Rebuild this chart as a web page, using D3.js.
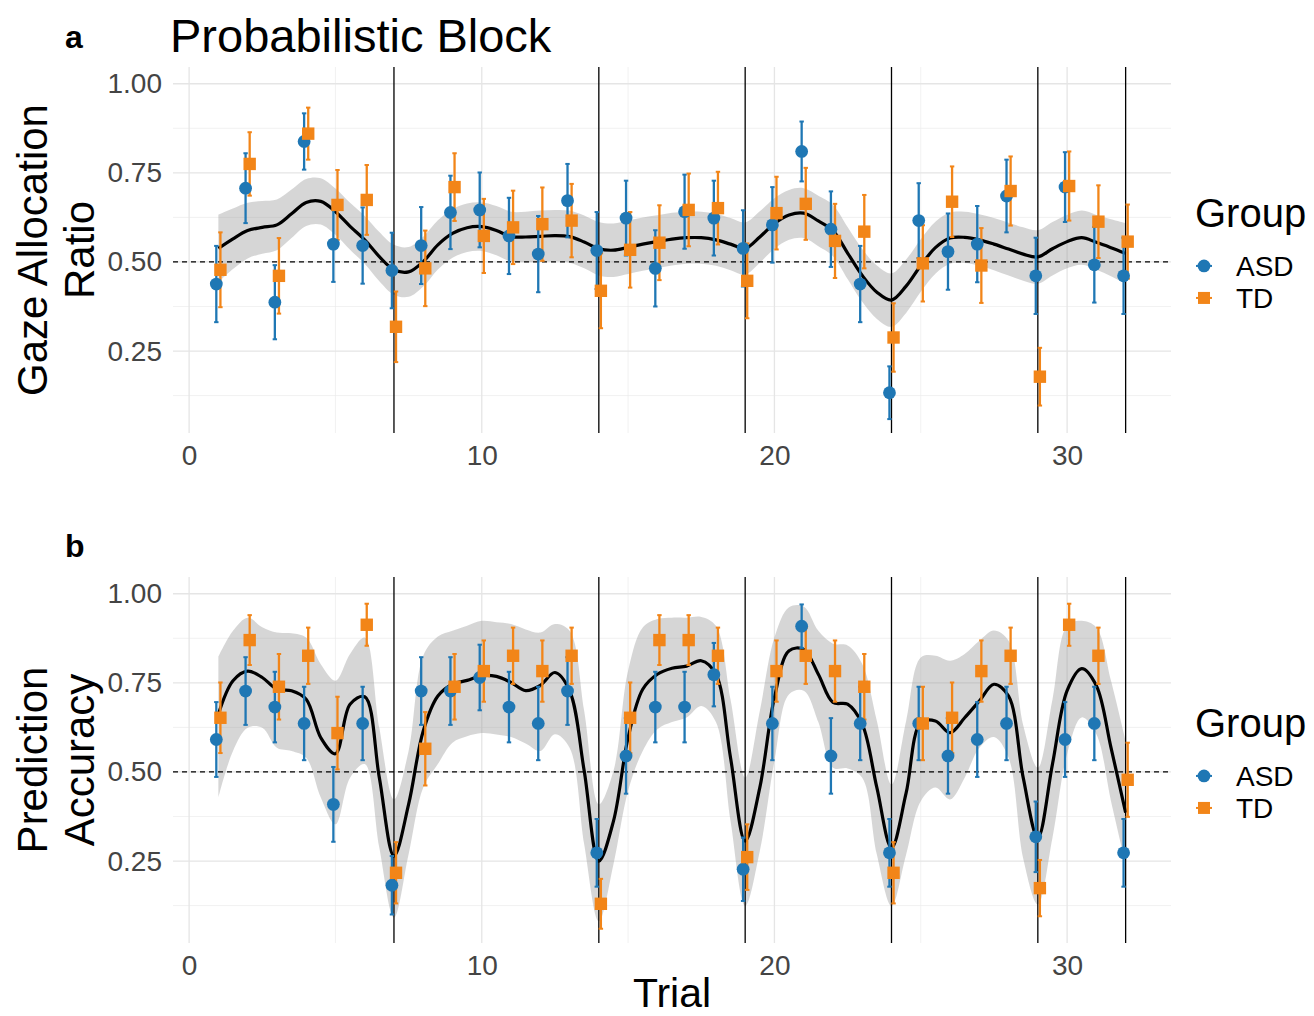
<!DOCTYPE html>
<html><head><meta charset="utf-8">
<script src="https://cdn.jsdelivr.net/npm/d3@7"></script>
<style>body{margin:0;background:#fff}</style>
</head><body><svg id="c" width="1314" height="1016"></svg>
<script>
// ---------- DATA ----------
const trials = [1,2,3,4,5,6,7,8,9,10,11,12,13,14,15,16,17,18,19,20,21,22,23,24,25,26,27,28,29,30,31,32];
const groups = ["ASD","TD"];
const switchTrials = [7,14,19,24,29,32];
const xTicks = [0,10,20,30];
const xMinor = [5,15,25];
const yTicks = [0.25,0.50,0.75,1.00];
const yTickLabels = ["0.25","0.50","0.75","1.00"];
const yMinor = [0.125,0.375,0.625,0.875];

// Panel a: gaze allocation ratio
const asdGaze   = [0.438,0.707,0.387,0.838,0.550,0.546,0.476,0.546,0.639,0.646,0.573,0.522,0.672,0.532,0.623,0.482,0.641,0.623,0.538,0.604,0.810,0.592,0.438,0.133,0.616,0.529,0.550,0.685,0.461,0.710,0.492,0.461];
const asdGazeSE = [0.107,0.098,0.104,0.079,0.106,0.107,0.106,0.108,0.103,0.105,0.107,0.107,0.103,0.108,0.105,0.107,0.104,0.105,0.107,0.106,0.084,0.106,0.107,0.074,0.105,0.107,0.107,0.102,0.107,0.098,0.106,0.107];
const tdGaze    = [0.478,0.775,0.461,0.860,0.660,0.674,0.318,0.482,0.710,0.573,0.597,0.606,0.616,0.419,0.534,0.554,0.646,0.651,0.447,0.637,0.663,0.559,0.585,0.288,0.496,0.669,0.490,0.699,0.178,0.713,0.613,0.557];
const tdGazeSE  = [0.105,0.089,0.106,0.073,0.098,0.098,0.099,0.106,0.095,0.104,0.103,0.103,0.103,0.105,0.106,0.105,0.102,0.102,0.105,0.102,0.101,0.104,0.103,0.096,0.107,0.099,0.105,0.097,0.081,0.097,0.102,0.104];

// Panel b: prediction accuracy
const asdAcc    = [0.591,0.727,0.682,0.636,0.409,0.636,0.182,0.727,0.727,0.765,0.682,0.636,0.727,0.273,0.545,0.682,0.682,0.773,0.227,0.636,0.909,0.545,0.636,0.273,0.636,0.545,0.591,0.636,0.318,0.591,0.636,0.273];
const asdAccSE  = [0.105,0.095,0.099,0.103,0.105,0.103,0.082,0.095,0.095,0.092,0.099,0.103,0.095,0.095,0.106,0.099,0.099,0.089,0.089,0.103,0.061,0.106,0.103,0.095,0.103,0.106,0.105,0.103,0.099,0.105,0.103,0.095];
const tdAcc     = [0.652,0.870,0.739,0.826,0.609,0.913,0.217,0.565,0.739,0.783,0.826,0.783,0.826,0.130,0.652,0.870,0.870,0.826,0.261,0.783,0.826,0.783,0.739,0.217,0.636,0.652,0.783,0.826,0.174,0.913,0.826,0.478];
const tdAccSE   = [0.099,0.070,0.092,0.079,0.102,0.059,0.086,0.103,0.092,0.086,0.079,0.086,0.079,0.070,0.099,0.070,0.070,0.079,0.092,0.086,0.079,0.086,0.092,0.086,0.103,0.099,0.086,0.079,0.079,0.059,0.079,0.104];

// Smoothed fits (loess) with confidence band, sampled every half trial
const smoothX = [1,1.5,2,2.5,3,3.5,4,4.5,5,5.5,6,6.5,7,7.5,8,8.5,9,9.5,10,10.5,11,11.5,12,12.5,13,13.5,14,14.5,15,15.5,16,16.5,17,17.5,18,18.5,19,19.5,20,20.5,21,21.5,22,22.5,23,23.5,24,24.5,25,25.5,26,26.5,27,27.5,28,28.5,29,29.5,30,30.5,31,31.5,32];
const gazeFit = [0.538,0.565,0.588,0.597,0.604,0.635,0.667,0.670,0.641,0.600,0.562,0.515,0.478,0.472,0.501,0.548,0.580,0.596,0.599,0.588,0.571,0.570,0.572,0.574,0.571,0.556,0.537,0.533,0.541,0.550,0.557,0.564,0.568,0.568,0.562,0.550,0.538,0.570,0.608,0.632,0.637,0.615,0.588,0.525,0.462,0.415,0.393,0.432,0.490,0.540,0.567,0.569,0.562,0.550,0.536,0.522,0.514,0.537,0.557,0.568,0.555,0.540,0.524];
const gazeLo  = [0.443,0.480,0.510,0.523,0.533,0.567,0.601,0.605,0.576,0.534,0.495,0.446,0.408,0.402,0.431,0.479,0.512,0.528,0.531,0.519,0.501,0.499,0.500,0.502,0.498,0.482,0.462,0.458,0.466,0.475,0.483,0.490,0.495,0.495,0.489,0.477,0.465,0.498,0.537,0.562,0.567,0.544,0.516,0.452,0.388,0.340,0.318,0.357,0.416,0.467,0.495,0.497,0.490,0.477,0.462,0.447,0.439,0.462,0.482,0.492,0.478,0.460,0.439];
const gazeHi  = [0.633,0.650,0.666,0.671,0.675,0.703,0.733,0.735,0.706,0.666,0.629,0.584,0.548,0.542,0.571,0.617,0.648,0.664,0.667,0.657,0.641,0.641,0.644,0.646,0.644,0.630,0.612,0.608,0.616,0.625,0.631,0.638,0.641,0.641,0.635,0.623,0.611,0.642,0.679,0.702,0.707,0.686,0.660,0.598,0.536,0.490,0.468,0.507,0.564,0.613,0.639,0.641,0.634,0.623,0.610,0.597,0.589,0.612,0.632,0.644,0.632,0.620,0.609];
const accFit  = [0.662,0.756,0.783,0.765,0.732,0.728,0.704,0.596,0.551,0.690,0.711,0.484,0.264,0.409,0.615,0.713,0.746,0.757,0.770,0.768,0.751,0.728,0.743,0.779,0.728,0.503,0.250,0.362,0.596,0.732,0.774,0.791,0.797,0.812,0.774,0.540,0.306,0.456,0.709,0.840,0.844,0.774,0.695,0.690,0.634,0.456,0.287,0.441,0.638,0.643,0.610,0.652,0.699,0.746,0.713,0.484,0.315,0.522,0.728,0.790,0.742,0.568,0.386];
const accLo   = [0.428,0.559,0.624,0.624,0.568,0.559,0.540,0.428,0.353,0.484,0.522,0.287,0.091,0.269,0.456,0.522,0.582,0.600,0.609,0.605,0.598,0.580,0.559,0.606,0.568,0.297,0.081,0.241,0.447,0.559,0.620,0.640,0.653,0.685,0.640,0.362,0.124,0.278,0.531,0.718,0.728,0.640,0.512,0.510,0.484,0.268,0.124,0.268,0.418,0.456,0.423,0.484,0.568,0.598,0.540,0.257,0.128,0.315,0.550,0.653,0.606,0.418,0.241];
const accHi   = [0.823,0.896,0.933,0.906,0.891,0.889,0.877,0.802,0.756,0.831,0.877,0.624,0.423,0.559,0.826,0.880,0.896,0.910,0.924,0.920,0.915,0.900,0.891,0.915,0.896,0.671,0.409,0.503,0.784,0.905,0.929,0.933,0.933,0.935,0.910,0.703,0.484,0.671,0.877,0.962,0.964,0.896,0.860,0.855,0.803,0.643,0.465,0.643,0.821,0.826,0.812,0.831,0.868,0.897,0.868,0.631,0.512,0.703,0.910,0.924,0.905,0.756,0.587];

// ---------- DRAWING ----------
const FONT = "'Liberation Sans', Arial, Helvetica, sans-serif";
const COL = {ASD: "#1f77b4", TD: "#f28518"};
const svg = d3.select("#c");
svg.append("rect").attr("width",1314).attr("height",1016).attr("fill","#fff");

const x = d3.scaleLinear().domain([-0.55, 33.55]).range([173, 1171]);
const X0 = x.range()[0], X1 = x.range()[1];

svg.append("text").attr("x",170).attr("y",52).attr("font-family",FONT).attr("font-size",47)
  .attr("fill","#000").text("Probabilistic Block");

function panel(cfg) {
  const y = d3.scaleLinear().domain([0.02, 1.047]).range([cfg.bottom, cfg.top]);
  const g = svg.append("g");

  // grid
  g.selectAll(".ymin").data(yMinor).join("line")
    .attr("x1",X0).attr("x2",X1).attr("y1",d=>y(d)).attr("y2",d=>y(d))
    .attr("stroke","#ebebeb").attr("stroke-width",0.7);
  g.selectAll(".xmin").data(xMinor).join("line")
    .attr("x1",d=>x(d)).attr("x2",d=>x(d)).attr("y1",cfg.top).attr("y2",cfg.bottom)
    .attr("stroke","#ebebeb").attr("stroke-width",0.7);
  g.selectAll(".ymaj").data(yTicks).join("line")
    .attr("x1",X0).attr("x2",X1).attr("y1",d=>y(d)).attr("y2",d=>y(d))
    .attr("stroke","#e5e5e5").attr("stroke-width",1.3);
  g.selectAll(".xmaj").data(xTicks).join("line")
    .attr("x1",d=>x(d)).attr("x2",d=>x(d)).attr("y1",cfg.top).attr("y2",cfg.bottom)
    .attr("stroke","#e5e5e5").attr("stroke-width",1.3);

  // ribbon
  const band = smoothX.map((t,i)=>({t, lo:cfg.lo[i], hi:cfg.hi[i], f:cfg.fit[i]}));
  g.append("path").datum(band)
    .attr("d", d3.area().x(d=>x(d.t)).y0(d=>y(d.lo)).y1(d=>y(d.hi)).curve(d3.curveCatmullRom.alpha(0.5)))
    .attr("fill","#999999").attr("fill-opacity",0.4);

  // reference lines
  g.append("line").attr("x1",X0).attr("x2",X1).attr("y1",y(0.5)).attr("y2",y(0.5))
    .attr("stroke","#000").attr("stroke-width",1.2).attr("stroke-dasharray","5,4");
  g.selectAll(".sw").data(switchTrials).join("line")
    .attr("x1",d=>x(d)).attr("x2",d=>x(d)).attr("y1",cfg.top).attr("y2",cfg.bottom)
    .attr("stroke","#000").attr("stroke-width",1.3);

  // smooth line
  g.append("path").datum(band)
    .attr("d", d3.line().x(d=>x(d.t)).y(d=>y(d.f)).curve(d3.curveCatmullRom.alpha(0.5)))
    .attr("fill","none").attr("stroke","#000").attr("stroke-width",3.2);

  // error bars + points
  const series = [
    {grp:"ASD", v:cfg.asd, se:cfg.asdSE, dx:-0.07},
    {grp:"TD",  v:cfg.td,  se:cfg.tdSE,  dx: 0.07}
  ];
  series.forEach(s=>{
    const pts = trials.map((t,i)=>({t:t+s.dx, v:s.v[i], lo:s.v[i]-s.se[i], hi:s.v[i]+s.se[i]}));
    const eb = g.append("g");
    eb.selectAll("line.v").data(pts).join("line")
      .attr("x1",d=>x(d.t)).attr("x2",d=>x(d.t)).attr("y1",d=>y(d.lo)).attr("y2",d=>y(d.hi))
      .attr("stroke",COL[s.grp]).attr("stroke-width",2.3);
    ["lo","hi"].forEach(k=>{
      eb.selectAll("line."+k).data(pts).join("line")
        .attr("x1",d=>x(d.t)-2.2).attr("x2",d=>x(d.t)+2.2).attr("y1",d=>y(d[k])).attr("y2",d=>y(d[k]))
        .attr("stroke",COL[s.grp]).attr("stroke-width",2);
    });
  });
  series.forEach(s=>{
    const pts = trials.map((t,i)=>({t:t+s.dx, v:s.v[i]}));
    if (s.grp==="ASD") {
      g.selectAll(null).data(pts).join("circle")
        .attr("cx",d=>x(d.t)).attr("cy",d=>y(d.v)).attr("r",6.4).attr("fill",COL.ASD);
    } else {
      g.selectAll(null).data(pts).join("rect")
        .attr("x",d=>x(d.t)-6.2).attr("y",d=>y(d.v)-6.2).attr("width",12.4).attr("height",12.4).attr("fill",COL.TD);
    }
  });

  // axes
  const ya = g.append("g").attr("transform",`translate(${X0},0)`)
    .call(d3.axisLeft(y).tickValues(yTicks).tickFormat((d,i)=>yTickLabels[i]).tickSize(0).tickPadding(11));
  ya.select(".domain").remove();
  ya.selectAll("text").attr("font-family",FONT).attr("font-size",28).attr("fill","#444");
  const xa = g.append("g").attr("transform",`translate(0,${cfg.bottom})`)
    .call(d3.axisBottom(x).tickValues(xTicks).tickFormat(d3.format("d")).tickSize(0).tickPadding(12));
  xa.select(".domain").remove();
  xa.selectAll("text").attr("font-family",FONT).attr("font-size",28).attr("fill","#444");

  // y title
  const cy = (cfg.top+cfg.bottom)/2;
  cfg.ytitle.forEach((line,i)=>{
    g.append("text").attr("transform",`translate(${47+47*i},${cy}) rotate(-90)`)
      .attr("text-anchor","middle").attr("font-family",FONT).attr("font-size",42).attr("fill","#000").text(line);
  });

  // tag
  g.append("text").attr("x",65).attr("y",cfg.tagY).attr("font-family",FONT).attr("font-size",32)
    .attr("font-weight","bold").attr("fill","#000").text(cfg.tag);

  // legend
  const ly = y(0.5);
  g.append("text").attr("x",1195).attr("y",ly-35).attr("font-family",FONT).attr("font-size",40).attr("fill","#000").text("Group");
  groups.forEach((grp,i)=>{
    const iy = ly + 4 + i*32;
    g.append("line").attr("x1",1196).attr("x2",1212).attr("y1",iy).attr("y2",iy).attr("stroke",COL[grp]).attr("stroke-width",2);
    if (grp==="ASD") g.append("circle").attr("cx",1204).attr("cy",iy).attr("r",6.4).attr("fill",COL[grp]);
    else g.append("rect").attr("x",1204-6).attr("y",iy-6).attr("width",12).attr("height",12).attr("fill",COL[grp]);
    g.append("text").attr("x",1236).attr("y",iy+10).attr("font-family",FONT).attr("font-size",28).attr("fill","#000").text(grp);
  });
}

panel({top:67, bottom:433, asd:asdGaze, asdSE:asdGazeSE, td:tdGaze, tdSE:tdGazeSE,
       fit:gazeFit, lo:gazeLo, hi:gazeHi, tag:"a", tagY:48, ytitle:["Gaze Allocation","Ratio"]});
panel({top:577, bottom:943, asd:asdAcc, asdSE:asdAccSE, td:tdAcc, tdSE:tdAccSE,
       fit:accFit, lo:accLo, hi:accHi, tag:"b", tagY:557, ytitle:["Prediction","Accuracy"]});

svg.append("text").attr("x",(X0+X1)/2).attr("y",1007).attr("text-anchor","middle")
  .attr("font-family",FONT).attr("font-size",41).attr("fill","#000").text("Trial");
</script>
</body></html>
